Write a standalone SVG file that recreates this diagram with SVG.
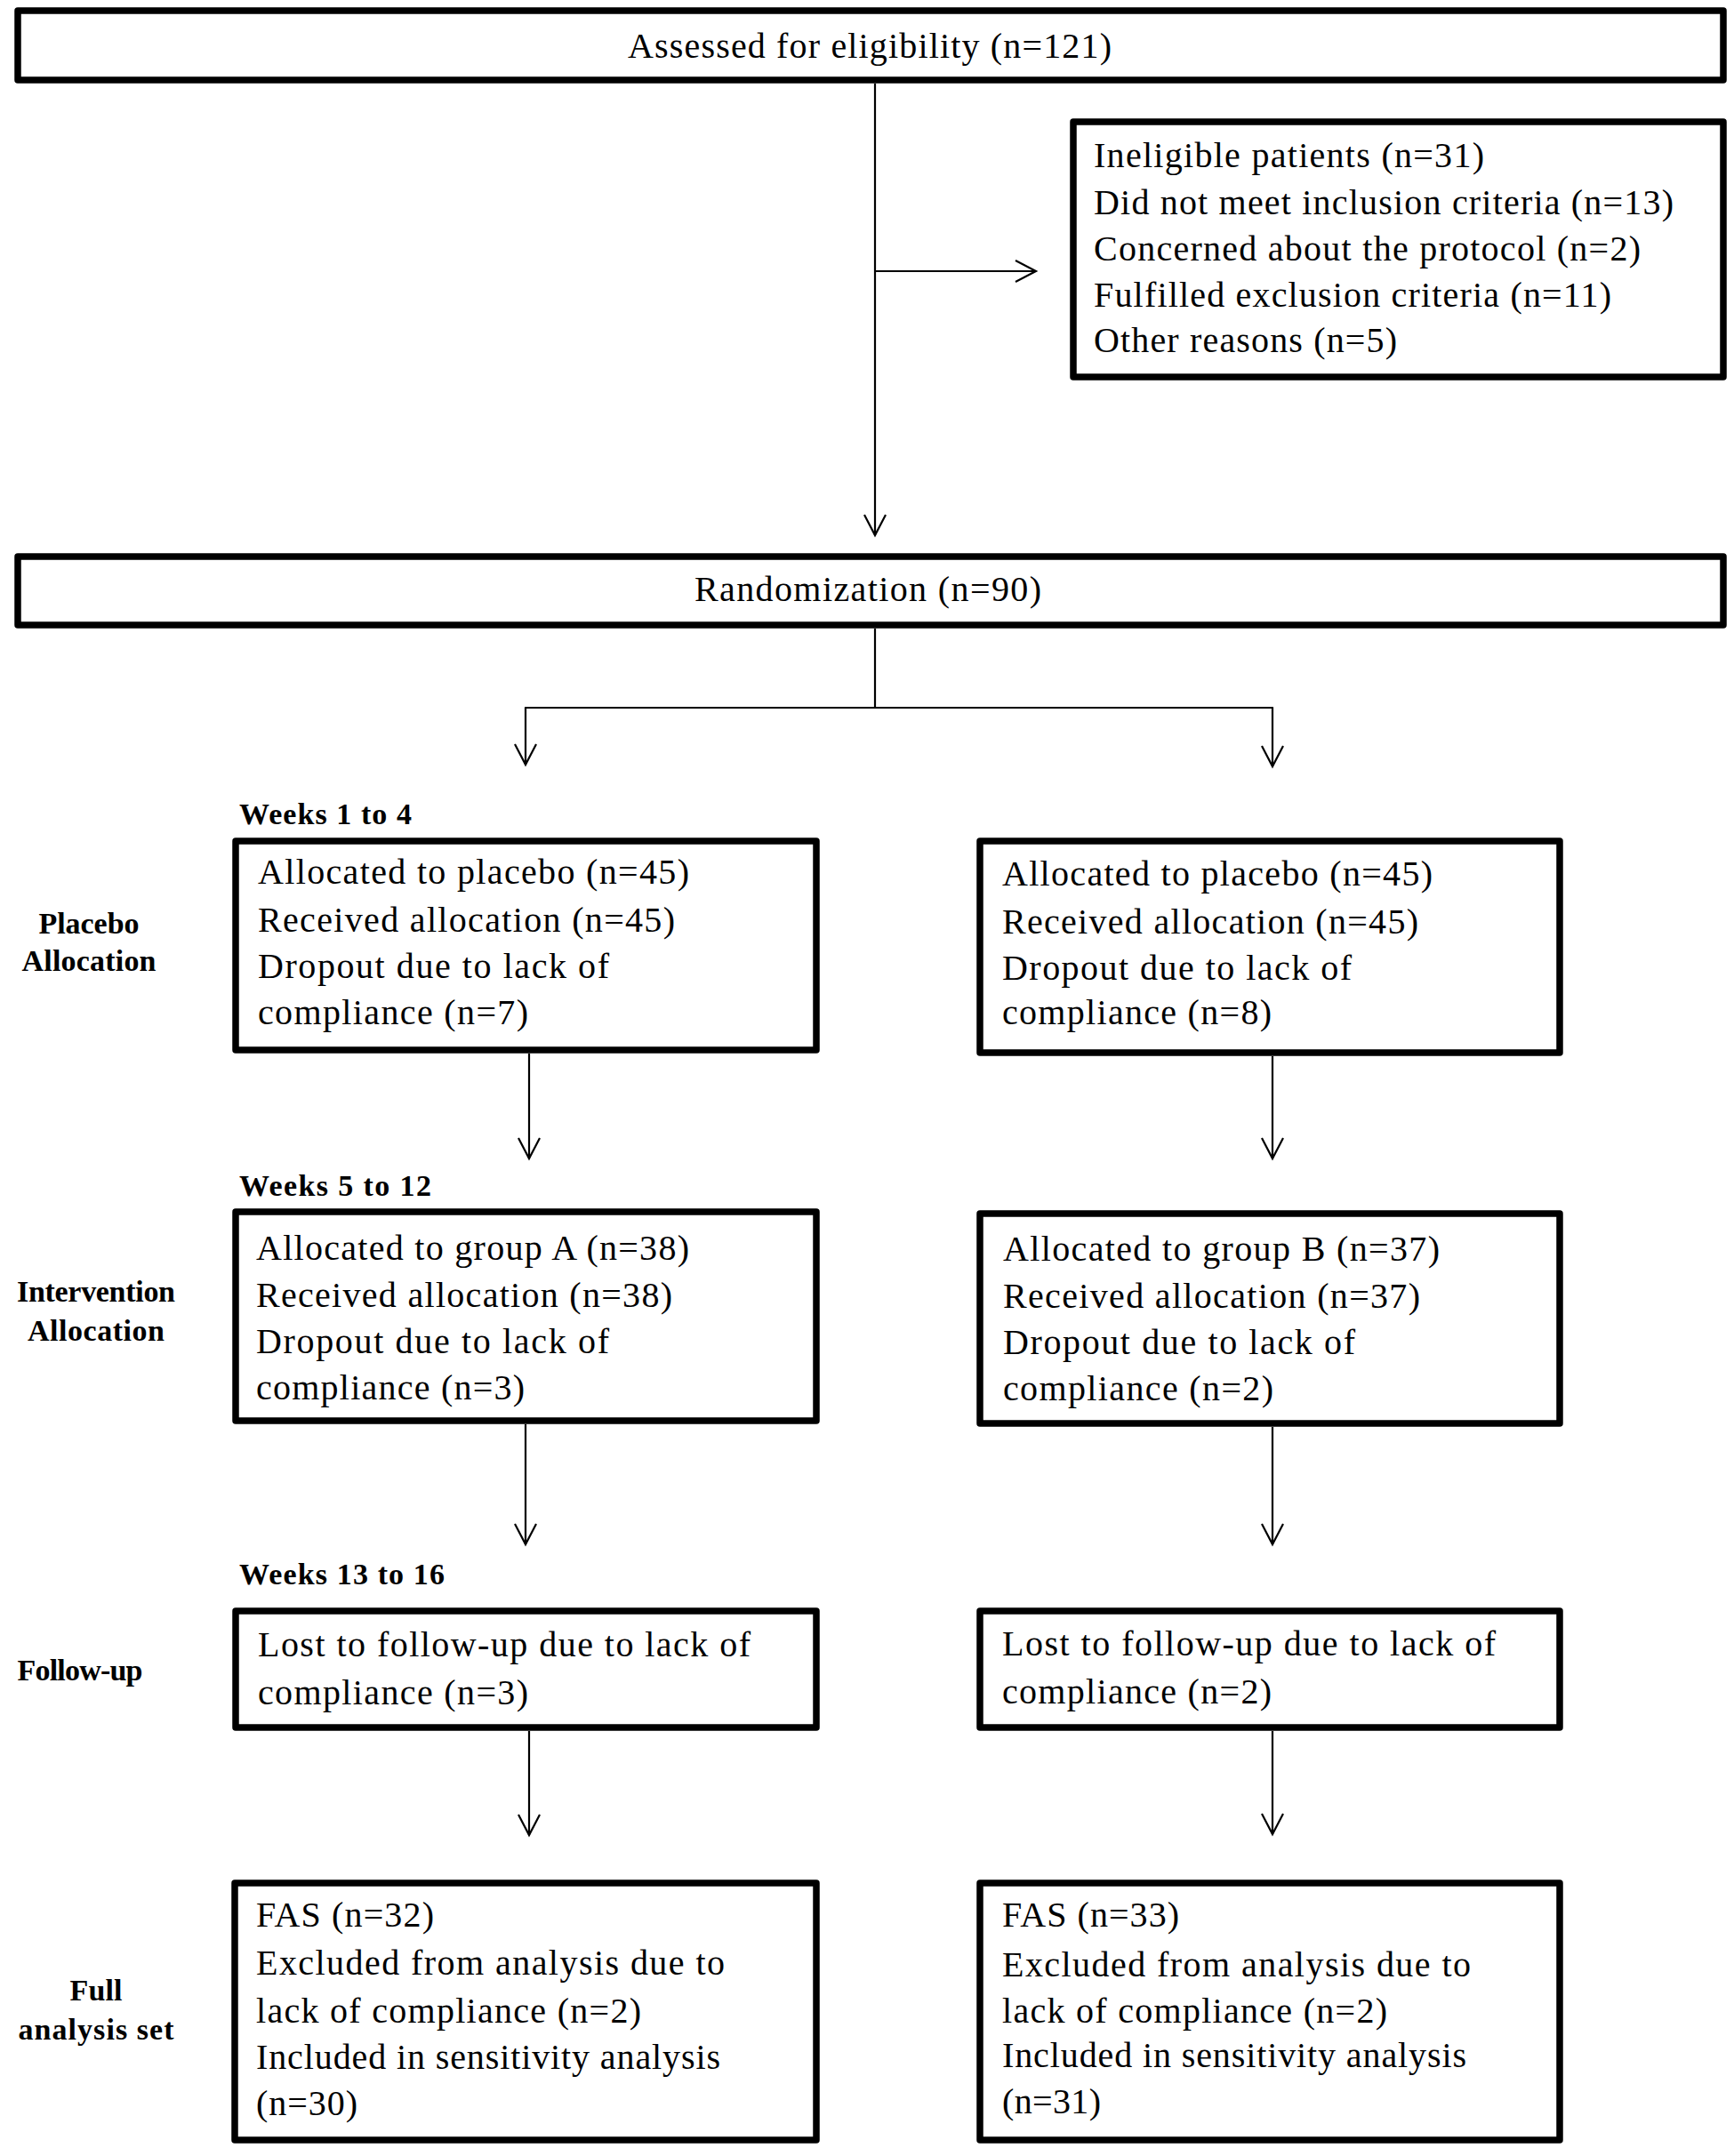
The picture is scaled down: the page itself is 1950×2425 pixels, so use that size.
<svg xmlns="http://www.w3.org/2000/svg" width="1950" height="2425" viewBox="0 0 1950 2425">
<style>
.box{fill:#fff;stroke:#000;stroke-width:7.5;stroke-linejoin:round}
.t{font-family:"Liberation Serif","Times New Roman",serif;font-size:40px;fill:#000}
.b{font-family:"Liberation Serif","Times New Roman",serif;font-size:34px;font-weight:bold;fill:#000}
.m{text-anchor:middle}
.c{fill:none;stroke:#000;stroke-width:2.2}
</style>
<defs>
<marker id="ah" markerUnits="userSpaceOnUse" markerWidth="30" markerHeight="30" refX="25" refY="13" orient="auto">
<path d="M2,1 L25,13 L2,25" fill="none" stroke="#000" stroke-width="2.2"/>
</marker>
</defs>
<rect width="1950" height="2425" fill="#fff"/>
<g id="connectors">
<path class="c" d="M984,94 V602" marker-end="url(#ah)"/>
<path class="c" d="M984,305 H1165" marker-end="url(#ah)"/>
<path class="c" d="M984,707 V796"/>
<path class="c" d="M590,796 H1432"/>
<path class="c" d="M591,796 V860" marker-end="url(#ah)"/>
<path class="c" d="M1431,796 V862" marker-end="url(#ah)"/>
<path class="c" d="M595,1185 V1303" marker-end="url(#ah)"/>
<path class="c" d="M1431,1188 V1303" marker-end="url(#ah)"/>
<path class="c" d="M591,1602 V1737" marker-end="url(#ah)"/>
<path class="c" d="M1431,1605 V1737" marker-end="url(#ah)"/>
<path class="c" d="M595,1947 V2064" marker-end="url(#ah)"/>
<path class="c" d="M1431,1947 V2063" marker-end="url(#ah)"/>
</g>
<g id="assessed">
<rect class="box" x="20" y="12" width="1918" height="78"/>
<text class="t" x="706" y="65" textLength="544">Assessed for eligibility (n=121)</text>
</g>
<g id="ineligible">
<rect class="box" x="1207" y="137" width="731" height="287"/>
<text class="t" x="1230" y="188" textLength="439">Ineligible patients (n=31)</text>
<text class="t" x="1230" y="241" textLength="652">Did not meet inclusion criteria (n=13)</text>
<text class="t" x="1230" y="293" textLength="615">Concerned about the protocol (n=2)</text>
<text class="t" x="1230" y="345" textLength="582">Fulfilled exclusion criteria (n=11)</text>
<text class="t" x="1230" y="396" textLength="341">Other reasons (n=5)</text>
</g>
<g id="randomization">
<rect class="box" x="20" y="626" width="1918" height="77"/>
<text class="t" x="781" y="676" textLength="390">Randomization (n=90)</text>
</g>
<g id="labels">
<text class="b" x="269" y="927" textLength="194">Weeks 1 to 4</text>
<text class="b" x="269" y="1345" textLength="216">Weeks 5 to 12</text>
<text class="b" x="269" y="1782" textLength="231">Weeks 13 to 16</text>
<text class="b m" x="100" y="1050" textLength="113">Placebo</text>
<text class="b m" x="100" y="1092" textLength="151">Allocation</text>
<text class="b m" x="108" y="1464" textLength="178">Intervention</text>
<text class="b m" x="108" y="1508" textLength="154">Allocation</text>
<text class="b m" x="90" y="1890" textLength="141">Follow-up</text>
<text class="b m" x="108" y="2250" textLength="59">Full</text>
<text class="b m" x="108" y="2294" textLength="175">analysis set</text>
</g>
<g id="placebo-left">
<rect class="box" x="265" y="946" width="653" height="235"/>
<text class="t" x="290" y="994" textLength="485">Allocated to placebo (n=45)</text>
<text class="t" x="290" y="1048" textLength="469">Received allocation (n=45)</text>
<text class="t" x="290" y="1100" textLength="395">Dropout due to lack of</text>
<text class="t" x="290" y="1152" textLength="304">compliance (n=7)</text>
</g>
<g id="placebo-right">
<rect class="box" x="1102" y="946" width="652" height="238"/>
<text class="t" x="1127" y="996" textLength="484">Allocated to placebo (n=45)</text>
<text class="t" x="1127" y="1050" textLength="468">Received allocation (n=45)</text>
<text class="t" x="1127" y="1102" textLength="393">Dropout due to lack of</text>
<text class="t" x="1127" y="1152" textLength="303">compliance (n=8)</text>
</g>
<g id="group-a">
<rect class="box" x="265" y="1363" width="653" height="235"/>
<text class="t" x="288" y="1417" textLength="487">Allocated to group A (n=38)</text>
<text class="t" x="288" y="1470" textLength="468">Received allocation (n=38)</text>
<text class="t" x="288" y="1522" textLength="397">Dropout due to lack of</text>
<text class="t" x="288" y="1574" textLength="302">compliance (n=3)</text>
</g>
<g id="group-b">
<rect class="box" x="1102" y="1365" width="652" height="236"/>
<text class="t" x="1128" y="1418" textLength="491">Allocated to group B (n=37)</text>
<text class="t" x="1128" y="1471" textLength="469">Received allocation (n=37)</text>
<text class="t" x="1128" y="1523" textLength="396">Dropout due to lack of</text>
<text class="t" x="1128" y="1575" textLength="304">compliance (n=2)</text>
</g>
<g id="followup-left">
<rect class="box" x="265" y="1812" width="653" height="131"/>
<text class="t" x="290" y="1863" textLength="554">Lost to follow-up due to lack of</text>
<text class="t" x="290" y="1917" textLength="304">compliance (n=3)</text>
</g>
<g id="followup-right">
<rect class="box" x="1102" y="1812" width="652" height="131"/>
<text class="t" x="1127" y="1862" textLength="555">Lost to follow-up due to lack of</text>
<text class="t" x="1127" y="1916" textLength="303">compliance (n=2)</text>
</g>
<g id="fas-left">
<rect class="box" x="264" y="2118" width="654" height="289"/>
<text class="t" x="288" y="2167" textLength="200">FAS (n=32)</text>
<text class="t" x="288" y="2221" textLength="527">Excluded from analysis due to</text>
<text class="t" x="288" y="2275" textLength="433">lack of compliance (n=2)</text>
<text class="t" x="288" y="2327" textLength="522">Included in sensitivity analysis</text>
<text class="t" x="288" y="2379" textLength="114">(n=30)</text>
</g>
<g id="fas-right">
<rect class="box" x="1102" y="2118" width="652" height="289"/>
<text class="t" x="1127" y="2167" textLength="199">FAS (n=33)</text>
<text class="t" x="1127" y="2223" textLength="527">Excluded from analysis due to</text>
<text class="t" x="1127" y="2275" textLength="433">lack of compliance (n=2)</text>
<text class="t" x="1127" y="2325" textLength="522">Included in sensitivity analysis</text>
<text class="t" x="1127" y="2377" textLength="111">(n=31)</text>
</g>
</svg>
